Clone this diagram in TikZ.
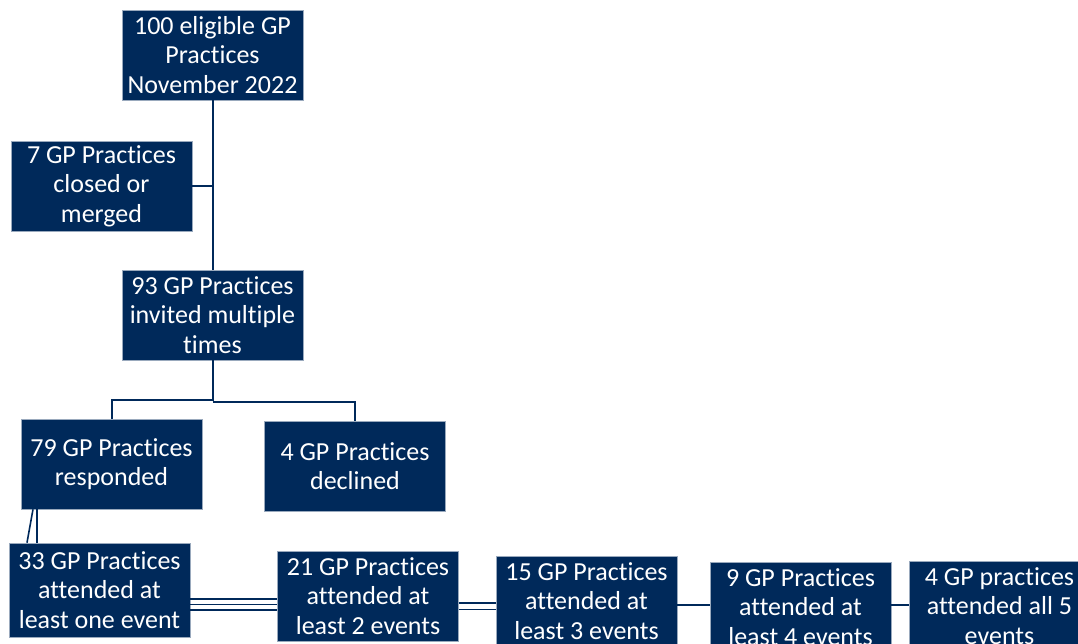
\documentclass[tikz,border=0pt]{standalone}
\usepackage{fontspec}
\setmainfont{Carlito}[RawFeature=-liga]
\usetikzlibrary{positioning}
\definecolor{navy}{RGB}{0,41,90}
\tikzset{
    stagebox/.style={fill=navy, draw=navy!40, line width=0.5pt, text=white,
        minimum width=135.75pt, minimum height=67.5pt, inner sep=1pt,
        align=center, font=\fontsize{19.5}{22}\selectfont},
    link/.style={draw=navy, line width=1.5pt}
}
\begin{document}
\begin{tikzpicture}[x=0.75pt, y=-0.75pt]
    \clip (0,0) rectangle (1078,643);
    \fill[white] (0,0) rectangle (1078,643);

    % Define the boxes
    \node[stagebox] (eligible) at (212.5,55) {100 eligible GP\\Practices\\November 2022};
    \node[stagebox] (closed) at (101.5,186) {7 GP Practices\\closed or\\merged};
    \node[stagebox] (invited) at (212.5,315) {93 GP Practices\\invited multiple\\times};
    \node[stagebox] (responded) at (111.5,464) {79 GP Practices\\responded};
    \node[stagebox] (declined) at (355,466) {4 GP Practices\\declined};

    % Attendance row
    \node[stagebox, minimum height=70.5pt] (one) at (99.5,590) {33 GP Practices\\attended at\\least one event};
    \node[stagebox] (two) at (368,596) {21 GP Practices\\attended at\\least 2 events};
    \node[stagebox] (three) at (586.5,601) {15 GP Practices\\attended at\\least 3 events};
    \node[stagebox] (four) at (800.5,607) {9 GP Practices\\attended at\\least 4 events};
    \node[stagebox] (five) at (999.5,606) {4 GP practices\\attended all 5\\events};

    % Draw the links
    \draw[link] (eligible.south) -- (invited.north);
    \draw[link] (closed.east) -- (closed.east -| eligible.south);
    \draw[link] (invited.south) -- ++(0,40) -| (responded.north);
    \draw[link] (invited.south) ++(0,42) -| (declined.north);
    \draw[link] (responded.south -| 37,0) -- (one.north -| 37,0);
    \draw[link, line width=1.2pt] (responded.south -| 33,0) -- (one.north -| 27,0);

    % Multiple lines between the event boxes
    \foreach \yy in {599,604.5,610}
        \draw[link, line width=1.3pt] (one.east |- 0,\yy) -- (two.west |- 0,\yy);
    \foreach \yy in {603,609.5}
        \draw[link, line width=1.3pt] (two.east |- 0,\yy) -- (three.west |- 0,\yy);
    \draw[link, line width=2pt] (three.east |- 0,605) -- (four.west |- 0,605);
    \draw[link, line width=2pt] (four.east |- 0,605) -- (five.west |- 0,605);

\end{tikzpicture}
\end{document}
